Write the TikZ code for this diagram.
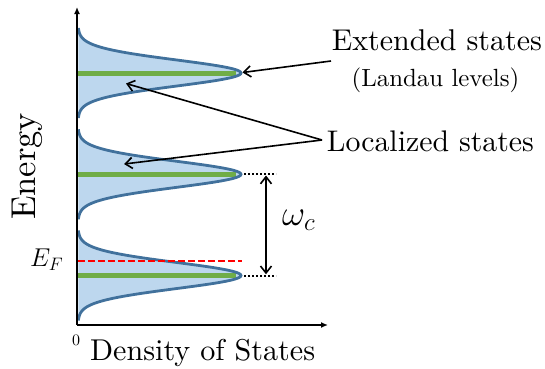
\RequirePackage{fix-cm}
\documentclass[tikz,border=0pt]{standalone}
\usepackage{fontspec}
\setmainfont{lmroman10-regular}[Extension=.otf]
\usepackage{graphicx}
\usetikzlibrary{arrows.meta}
\definecolor{dosfill}{HTML}{BDD7EE}
\definecolor{dosline}{HTML}{41719C}
\definecolor{lvlgreen}{HTML}{70AD47}
\tikzset{
  axisline/.style={line width=1.8pt,-{Latex[length=7pt,width=6pt]}},
  ptr/.style={line width=1.6pt,-{Straight Barb[length=7pt,width=11pt]}},
  dblptr/.style={line width=1.6pt,{Straight Barb[length=7pt,width=11pt]}-{Straight Barb[length=7pt,width=11pt]}},
  curve/.style={draw=dosline,line width=2.8pt},
  lvl/.style={draw=lvlgreen,line width=5pt},
  guide/.style={line width=2pt,dash pattern=on 2pt off 2pt},
  lbl/.style={font=\fontsize{30}{32}\selectfont,inner sep=0pt,anchor=base west},
}
\begin{document}
\begin{tikzpicture}[x=1pt,y=-1pt]
\useasboundingbox (0,0) rectangle (545,368);
% peaks
\foreach \c/\n in {73/a,174.3/b,275.5/c}{
  \fill[dosfill] plot[domain=-45:45,samples=91,smooth] ({78+163*exp(-0.5*(\x/13)*(\x/13))},{\c+\x}) -- cycle;
  \draw[lvl] (78,\c) -- (236,\c);
  \draw[curve] plot[domain=-45:45,samples=91,smooth] ({78+163*exp(-0.5*(\x/13)*(\x/13))},{\c+\x});
  \coordinate (peak\n) at (241,\c);
}
% Fermi level
\draw[red,line width=2pt,dash pattern=on 7pt off 3pt] (78,260.5) -- (242,260.5);
\node[lbl] (ef) at (30,266.5) {\resizebox{33pt}{!}{$E_F$}};
% axes
\coordinate (origin) at (77,325);
\coordinate (ytop) at (77,7);
\coordinate (xend) at (328,325);
\draw[axisline] (origin) -- (ytop);
\draw[axisline] (origin) -- (xend);
\node[lbl,anchor=base] (zero) at (76,345) {\resizebox{8pt}{!}{0}};
\node[lbl] (dos) at (90,360) {\resizebox{225pt}{!}{Density of States}};
\node[lbl,rotate=90] (energy) at (35,220) {\resizebox{107pt}{!}{Energy}};
% spacing
\coordinate (gb1) at (276,174.3);
\coordinate (gc1) at (276,275.5);
\draw[guide] (244,174.3) -- (gb1);
\draw[guide] (244,275.5) -- (gc1);
\coordinate (wtop) at (266,175.5);
\coordinate (wbot) at (266,274.3);
\draw[dblptr] (wtop) -- (wbot);
\node[lbl] (omega) at (282,225) {\resizebox{33pt}{!}{$\omega_c$}};
% labels
\node[lbl] (ext) at (331.7,50) {\resizebox{210pt}{!}{Extended states}};
\node[lbl,anchor=center] (landau) at (435.5,80) {\resizebox{167.6pt}{!}{(Landau levels)}};
\node[lbl] (loc) at (326.7,151.7) {\resizebox{207pt}{!}{Localized states}};
\coordinate (extstart) at (331,61);
\coordinate (locapex) at (322,140);
\coordinate (loctip1) at (126,83.5);
\coordinate (loctip2) at (124,164);
\draw[ptr] (extstart) -- (242.5,72.5);
\draw[ptr] (locapex) -- (loctip1);
\draw[ptr] (locapex) -- (loctip2);
\end{tikzpicture}
\end{document}
